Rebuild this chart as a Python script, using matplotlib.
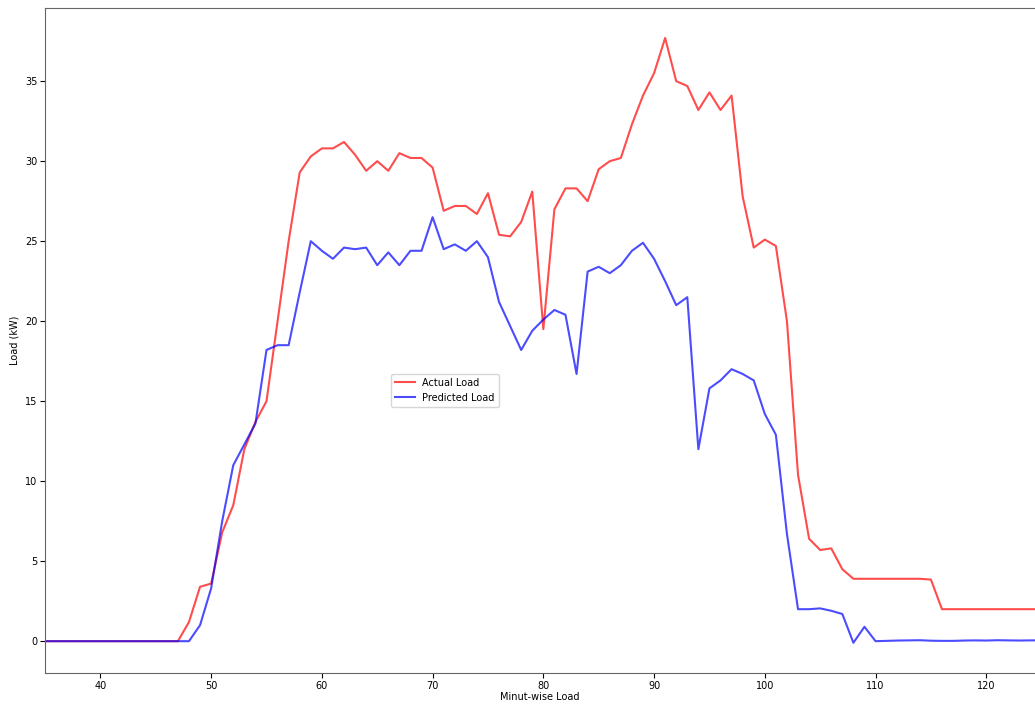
import numpy as np
import matplotlib
matplotlib.use('Agg')
import matplotlib.pyplot as plt

minutes = list(range(35, 126))

actual = [0]*13 + [
    1.2, 3.4, 3.6, 6.8, 8.5, 12.0, 13.7, 15.0, 20.0, 25.0,   # 48-57
    29.3, 30.3, 30.8, 30.8, 31.2, 30.4, 29.4, 30.0, 29.4, 30.5,  # 58-67
    30.2, 30.2, 29.6, 26.9, 27.2, 27.2, 26.7, 28.0, 25.4, 25.3,  # 68-77
    26.2, 28.1, 19.5, 27.0, 28.3, 28.3, 27.5, 29.5, 30.0, 30.2,  # 78-87
    32.3, 34.1, 35.5, 37.7, 35.0, 34.7, 33.2, 34.3, 33.2, 34.1,  # 88-97
    27.8, 24.6, 25.1, 24.7, 20.0, 10.4, 6.4, 5.7, 5.8, 4.5,      # 98-107
    3.9, 3.9, 3.9, 3.9, 3.9, 3.9, 3.9, 3.85,                      # 108-115
    2.0, 2.0, 2.0, 2.0, 2.0, 2.0, 2.0, 2.0, 2.0, 2.0]             # 116-125

predicted = [0]*14 + [
    1.0, 3.3, 7.5, 11.0, 12.3, 13.6, 18.2, 18.5, 18.5,           # 49-57
    21.8, 25.0, 24.4, 23.9, 24.6, 24.5, 24.6, 23.5, 24.3, 23.5,  # 58-67
    24.4, 24.4, 26.5, 24.5, 24.8, 24.4, 25.0, 24.0, 21.2, 19.7,  # 68-77
    18.2, 19.4, 20.1, 20.7, 20.4, 16.7, 23.1, 23.4, 23.0, 23.5,  # 78-87
    24.4, 24.9, 23.9, 22.5, 21.0, 21.5, 12.0, 15.8, 16.3, 17.0,  # 88-97
    16.7, 16.3, 14.2, 12.9, 6.7, 2.0, 2.0, 2.05, 1.9, 1.7,       # 98-107
    -0.1, 0.9, 0.0, 0.02, 0.04, 0.05, 0.06, 0.03, 0.02, 0.02,    # 108-117
    0.04, 0.05, 0.04, 0.06, 0.05, 0.04, 0.05, 0.05]              # 118-125

fig = plt.figure(figsize=(10.35, 7.04), dpi=100)
ax = fig.add_axes([0.0435, 0.044, 0.9565, 0.945])

ax.plot(minutes, actual, color='red', alpha=0.7, lw=1.5, label='Actual Load')
ax.plot(minutes, predicted, color='blue', alpha=0.7, lw=1.5, label='Predicted Load')

ax.set_xlim(35, 124.4)
ax.set_xlabel('Minut-wise Load', fontsize=7, labelpad=1)
ax.set_ylabel('Load (kW)', fontsize=7)
ax.tick_params(labelsize=7, pad=2)
for s in ax.spines.values():
    s.set_color('#666666')
ax.spines['right'].set_visible(False)

ax.legend(loc='center', bbox_to_anchor=(0.404, 0.425), fontsize=7)

plt.savefig('out.png')
